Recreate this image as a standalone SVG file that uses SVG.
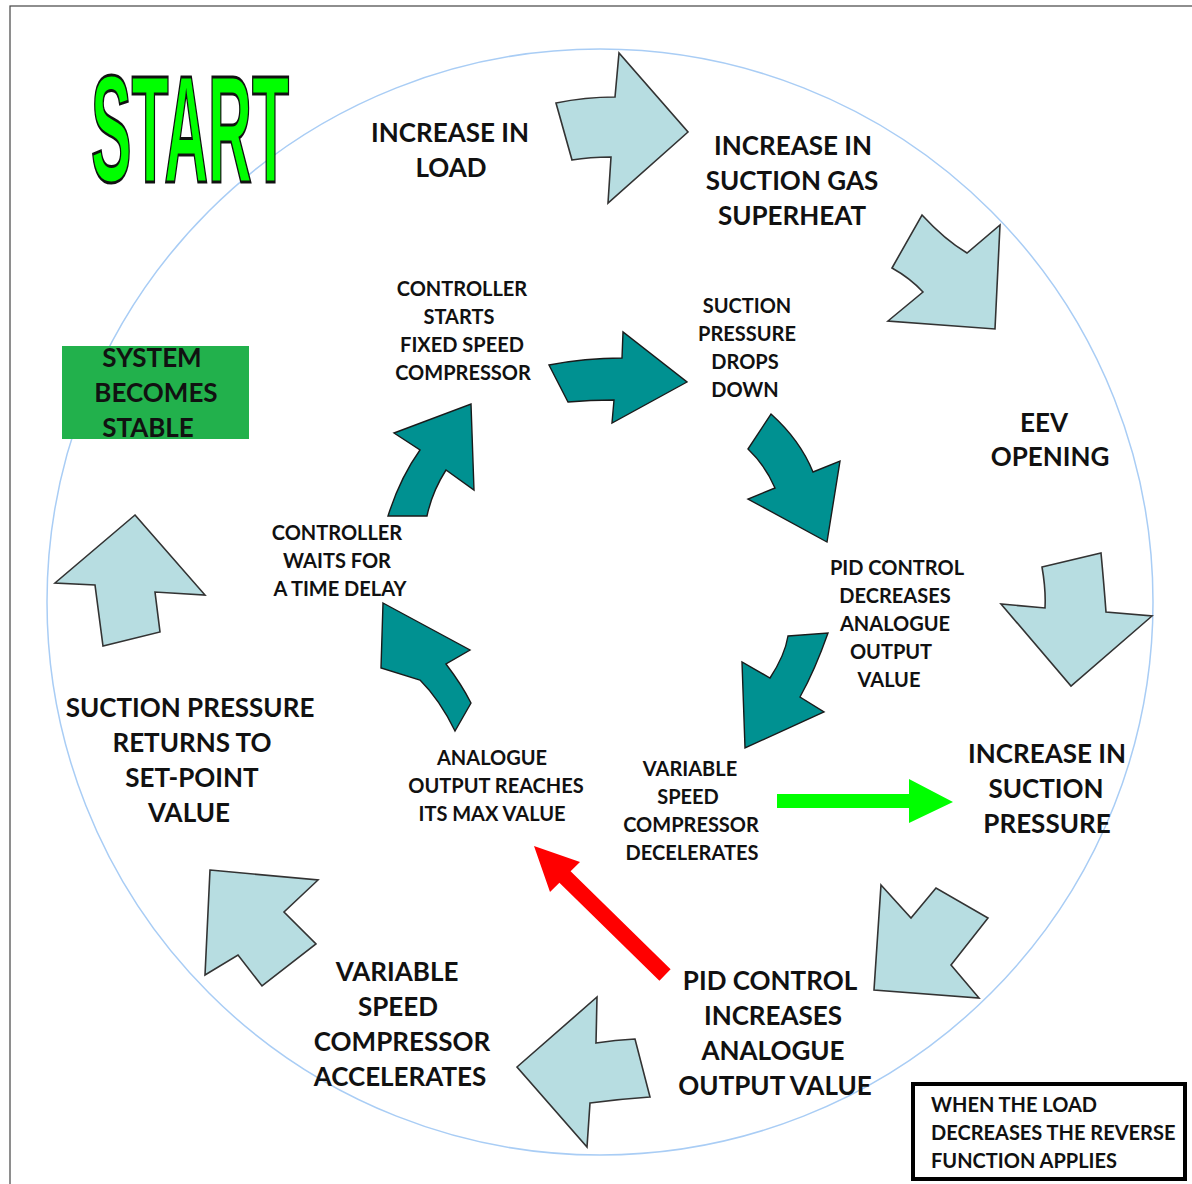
<svg xmlns="http://www.w3.org/2000/svg" width="1192" height="1184" viewBox="0 0 1192 1184">
<style>
.big{font-family:Lato,"Liberation Sans",sans-serif;font-weight:bold;font-size:26px;fill:#111;text-anchor:middle}
.small{font-family:Lato,"Liberation Sans",sans-serif;font-weight:bold;font-size:20px;fill:#111;text-anchor:middle}
.light{fill:#b7dde1;stroke:#333;stroke-width:1.6;stroke-linejoin:miter}
.teal{fill:#009191;stroke:#1a1a1a;stroke-width:1.4;stroke-linejoin:miter}
</style>
<rect width="1192" height="1184" fill="#fff"/>
<rect x="10" y="6" width="1200" height="1200" fill="none" stroke="#444" stroke-width="1.2"/>
<circle cx="600" cy="602" r="553" fill="none" stroke="#a9cdf5" stroke-width="1.5"/>

<g id="start">
<text transform="translate(91,182) scale(0.4,1)" x="0" y="0" font-family="'Liberation Sans',sans-serif" font-weight="bold" font-size="152" fill="#00ff00" stroke="#111" stroke-width="3">START</text>
</g>

<g id="system-stable">
<rect x="62" y="346" width="187" height="93" fill="#22b14c"/>
<text class="big" font-size="24" x="152" y="367">SYSTEM</text>
<text class="big" font-size="24" x="156" y="402">BECOMES</text>
<text class="big" font-size="24" x="148" y="437">STABLE</text>
</g>

<g id="note">
<rect x="913" y="1084" width="272" height="95" fill="#fff" stroke="#000" stroke-width="4"/>
<text class="small" style="text-anchor:start" x="931" y="1112">WHEN THE LOAD</text>
<text class="small" style="text-anchor:start" x="931" y="1140">DECREASES THE REVERSE</text>
<text class="small" style="text-anchor:start" x="931" y="1168">FUNCTION APPLIES</text>
</g>

<g id="connectors">
<path class="light" d="M556,103 Q585,97 615,97 L619,53 L688,132 L608,203 L611,157 Q590,157 572,160 Z"/>
<path class="light" d="M922,215 Q945,240 967,253 L1000,225 L995,329 L888,321 L923,292 Q910,278 892,268 Z"/>
<path class="light" d="M1042,567 L1101,553 Q1104,585 1106,612 L1152,616 L1071,686 L1001,604 L1045,608 Q1046,590 1042,567 Z"/>
<path class="light" d="M881,885 L911,918 L936,888 L988,918 L951,965 L979,998 L874,990 Z"/>
<path class="light" d="M597,997 L596,1043 Q615,1040 635,1039 L650,1097 Q620,1099 590,1103 L587,1147 L517,1067 Z"/>
<path class="light" d="M210,870 L318,880 L284,912 L316,944 L262,986 L238,955 L205,975 Z"/>
<path class="light" d="M135,515 L205,595 L155,592 L160,632 L103,646 L95,585 L55,583 Z"/>

<path class="teal" d="M549,365 Q585,358 622,358 L623,332 L687,382 L612,423 L614,400 Q590,400 568,402 Z"/>
<path class="teal" d="M771,414 Q800,440 813,472 L840,461 L827,542 L748,499 L775,488 Q765,465 748,449 Z"/>
<path class="teal" d="M788,636 L828,633 Q815,670 800,697 L824,712 L745,748 L742,662 L770,678 Q785,655 788,636 Z"/>
<path class="teal" d="M383,603 L470,650 L446,664 Q462,685 471,703 L455,731 Q440,700 420,680 L381,668 Z"/>
<path class="teal" d="M388,516 Q400,478 420,450 L394,433 L471,404 L474,490 L446,470 Q432,492 427,516 Z"/>

<path d="M777,794 L909,794 L909,779 L953,802 L909,823 L909,808 L777,808 Z" fill="#00ff00"/>
<path d="M534,846 L580,862 L570.6,871.3 L670.6,969.3 L659.4,980.7 L559.4,882.7 L550,892 Z" fill="#ff0000"/>
</g>

<g id="n-load"><text class="big" x="450" y="142">INCREASE IN</text><text class="big" x="451" y="177">LOAD</text></g>
<g id="n-superheat"><text class="big" x="793" y="155">INCREASE IN</text><text class="big" x="792" y="190">SUCTION GAS</text><text class="big" x="792" y="225">SUPERHEAT</text></g>
<g id="n-eev"><text class="big" x="1044" y="432">EEV</text><text class="big" x="1050" y="466">OPENING</text></g>
<g id="n-suction-pressure"><text class="big" x="1047" y="763">INCREASE IN</text><text class="big" x="1046" y="798">SUCTION</text><text class="big" x="1047" y="833">PRESSURE</text></g>
<g id="n-pid-inc"><text class="big" x="770" y="990">PID CONTROL</text><text class="big" x="773" y="1025">INCREASES</text><text class="big" x="773" y="1060">ANALOGUE</text><text class="big" x="775" y="1095">OUTPUT VALUE</text></g>
<g id="n-accel"><text class="big" x="397" y="981">VARIABLE</text><text class="big" x="398" y="1016">SPEED</text><text class="big" x="402" y="1051">COMPRESSOR</text><text class="big" x="400" y="1086">ACCELERATES</text></g>
<g id="n-returns"><text class="big" x="190" y="717">SUCTION PRESSURE</text><text class="big" x="192" y="752">RETURNS TO</text><text class="big" x="192" y="787">SET-POINT</text><text class="big" x="189" y="822">VALUE</text></g>

<g id="n-ctrl-starts"><text class="small" x="462" y="296">CONTROLLER</text><text class="small" x="459" y="324">STARTS</text><text class="small" x="462" y="352">FIXED SPEED</text><text class="small" x="463" y="380">COMPRESSOR</text></g>
<g id="n-drops"><text class="small" x="747" y="313">SUCTION</text><text class="small" x="747" y="341">PRESSURE</text><text class="small" x="745" y="369">DROPS</text><text class="small" x="745" y="397">DOWN</text></g>
<g id="n-pid-dec"><text class="small" x="897" y="575">PID CONTROL</text><text class="small" x="895" y="603">DECREASES</text><text class="small" x="895" y="631">ANALOGUE</text><text class="small" x="891" y="659">OUTPUT</text><text class="small" x="889" y="687">VALUE</text></g>
<g id="n-decel"><text class="small" x="690" y="776">VARIABLE</text><text class="small" x="688" y="804">SPEED</text><text class="small" x="691" y="832">COMPRESSOR</text><text class="small" x="692" y="860">DECELERATES</text></g>
<g id="n-max"><text class="small" x="492" y="765">ANALOGUE</text><text class="small" x="496" y="793">OUTPUT REACHES</text><text class="small" x="492" y="821">ITS MAX VALUE</text></g>
<g id="n-waits"><text class="small" x="337" y="540">CONTROLLER</text><text class="small" x="337" y="568">WAITS FOR</text><text class="small" x="340" y="596">A TIME DELAY</text></g>
</svg>
